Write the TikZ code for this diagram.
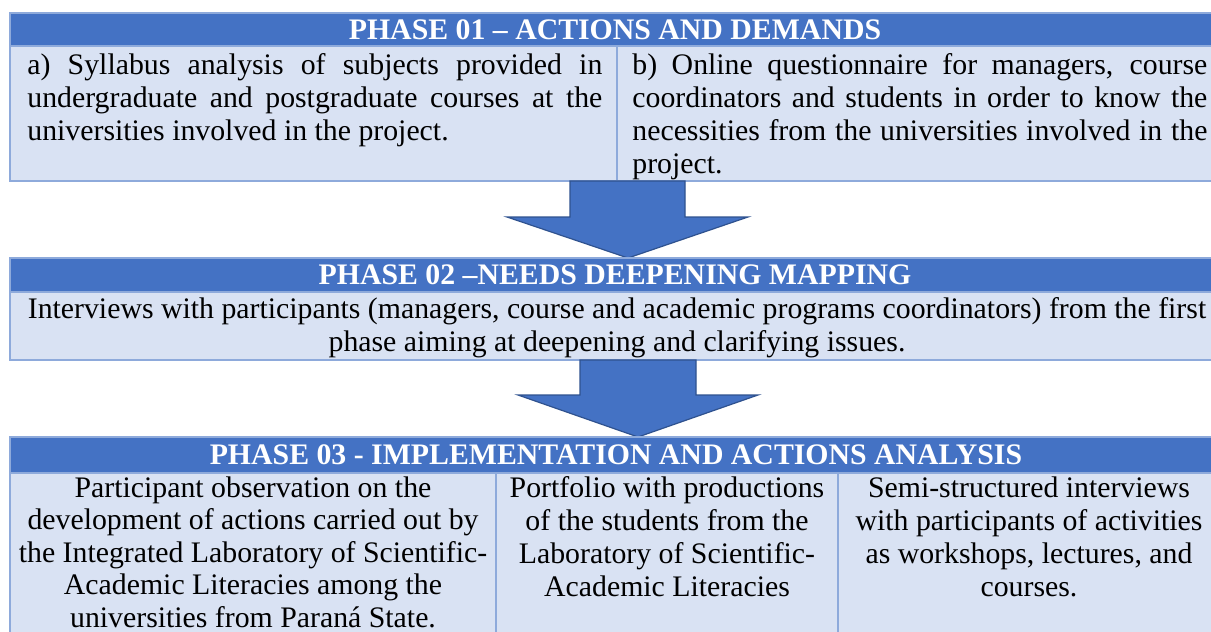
\documentclass[tikz,border=0pt]{standalone}
\usepackage{fontspec}
\setmainfont{Liberation Serif}
\definecolor{hdr}{HTML}{4472C4}
\definecolor{cellbg}{HTML}{D9E2F3}
\definecolor{cellln}{HTML}{8EAADB}
\definecolor{arrln}{HTML}{2F528F}
\newcommand{\jl}[1]{\makebox[287.5pt][s]{#1}}
\begin{document}
\begin{tikzpicture}[x=0.5pt,y=-0.5pt,
  hdrbox/.style={fill=hdr,draw=cellln,line width=0.6pt},
  cellbox/.style={fill=cellbg,draw=cellln,line width=0.6pt},
  divline/.style={draw=cellln,line width=0.6pt},
  hdrtext/.style={text=white,font=\bfseries\fontsize{14.9}{16.5}\selectfont,inner sep=0pt,anchor=base},
  celltext/.style={font=\fontsize{14.9}{16.5}\selectfont,inner sep=0pt,anchor=north,align=center},
  bigarrow/.style={fill=hdr,draw=arrln,line width=0.6pt}]
\useasboundingbox (0,0) rectangle (1211,632);
\fill[white] (0,0) rectangle (1211,632);
% Phase 1
\draw[hdrbox] (10,13) rectangle (1216,46);
\draw[cellbox] (10,46) rectangle (1216,181);
\draw[divline] (617,46) -- (617,181);
\node[hdrtext] (h1) at (615,39.5) {PHASE 01 – ACTIONS AND DEMANDS};
\node[celltext,anchor=north west,align=left] (a1) at (27,53)
  {\jl{a) Syllabus analysis of subjects provided in}\\
   \jl{undergraduate and postgraduate courses at the}\\
   universities involved in the project.};
\node[celltext,anchor=north west,align=left] (b1) at (632,53)
  {\jl{b) Online questionnaire for managers, course}\\
   \jl{coordinators and students in order to know the}\\
   \jl{necessities from the universities involved in the}\\
   project.};
% Arrow 1
\draw[bigarrow] (570,181) -- (685,181) -- (685,217) -- (748,217) -- (628,258) -- (507,217) -- (570,217) -- cycle;
% Phase 2
\draw[hdrbox] (10,258) rectangle (1216,292);
\draw[cellbox] (10,292) rectangle (1216,360);
\node[hdrtext] (h2) at (615,284.5) {PHASE 02 –NEEDS DEEPENING MAPPING};
\node[celltext] (t2) at (617,297)
  {Interviews with participants (managers, course and academic programs coordinators) from the first\\
   phase aiming at deepening and clarifying issues.};
% Arrow 2
\draw[bigarrow] (580,360) -- (696,360) -- (696,395) -- (758,395) -- (638,437) -- (518,395) -- (580,395) -- cycle;
% Phase 3
\draw[hdrbox] (10,437) rectangle (1216,473);
\draw[cellbox] (10,473) rectangle (1216,640);
\draw[divline] (496,473) -- (496,640);
\draw[divline] (838,473) -- (838,640);
\node[hdrtext] (h3) at (616,464) {PHASE 03 - IMPLEMENTATION AND ACTIONS ANALYSIS};
\node[celltext,font=\fontsize{14.9}{16.3}\selectfont] (c1) at (253,476)
  {Participant observation on the\\
   development of actions carried out by\\
   the Integrated Laboratory of Scientific-\\
   Academic Literacies among the\\
   universities from Paraná State.};
\node[celltext] (c2) at (667,476)
  {Portfolio with productions\\
   of the students from the\\
   Laboratory of Scientific-\\
   Academic Literacies};
\node[celltext] (c3) at (1029,476)
  {Semi-structured interviews\\
   with participants of activities\\
   as workshops, lectures, and\\
   courses.};
\end{tikzpicture}
\end{document}
